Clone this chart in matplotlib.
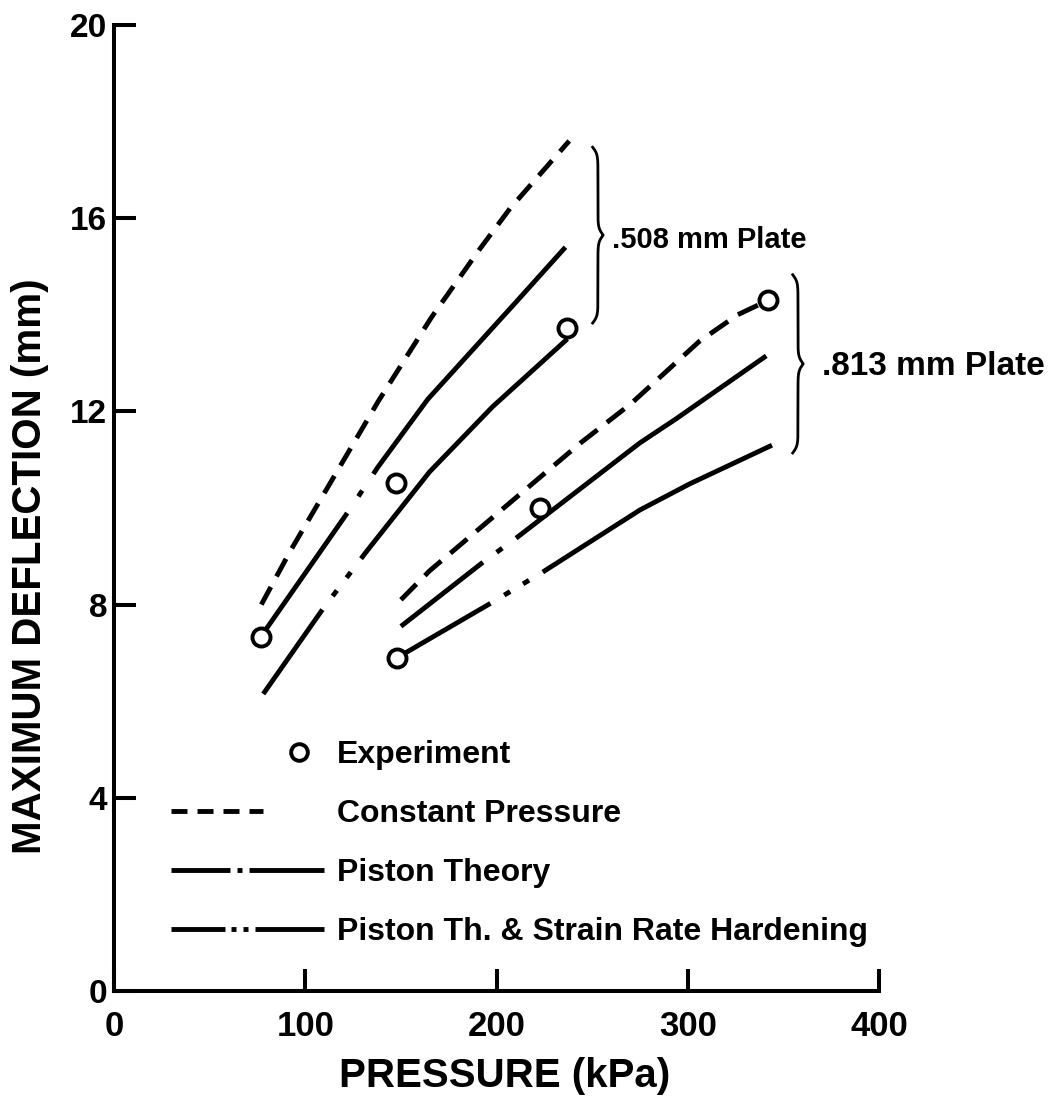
import numpy as np
import matplotlib
matplotlib.use("Agg")
import matplotlib.pyplot as plt
from matplotlib.lines import Line2D
from matplotlib.legend_handler import HandlerLine2D

plt.rcParams['font.family'] = ['Liberation Sans', 'DejaVu Sans']
plt.rcParams['font.weight'] = 'bold'
plt.rcParams['lines.scale_dashes'] = False

# --- data (pressure kPa, max deflection mm) ---
# .508 mm plate
cp508_x = [77, 92, 138, 166, 191, 207, 238]
cp508_y = [8.0, 9.1, 12.2, 13.95, 15.35, 16.2, 17.6]
pt508_x = [77, 122, 138, 164, 211, 236]
pt508_y = [7.35, 9.9, 10.85, 12.25, 14.3, 15.4]
sr508_x = [78, 109, 132, 165, 198, 237]
sr508_y = [6.15, 7.9, 9.1, 10.75, 12.1, 13.5]
exp508_x = [77, 147.5, 237]
exp508_y = [7.33, 10.52, 13.72]

# .813 mm plate
cp813_x = [150, 165, 244, 270, 306, 326, 342]
cp813_y = [8.1, 8.7, 11.35, 12.15, 13.45, 14.0, 14.3]
pt813_x = [150, 192, 211, 275, 294, 341]
pt813_y = [7.55, 8.85, 9.4, 11.35, 11.85, 13.15]
sr813_x = [148, 197, 224, 275, 301, 344]
sr813_y = [6.9, 8.03, 8.67, 9.96, 10.5, 11.3]
exp813_x = [148, 222.7, 342]
exp813_y = [6.89, 10.0, 14.3]

x_ticks = [0, 100, 200, 300, 400]
y_ticks = [0, 4, 8, 12, 16, 20]
legend_labels = ['Experiment', 'Constant Pressure', 'Piston Theory',
                 'Piston Th. & Strain Rate Hardening']


def px(seq):
    # dash lengths given in pixels -> points (dpi 100)
    return [v * 72 / 100 for v in seq]


LW = 3.5
MS = 13
MEW = 2.8

fig = plt.figure(figsize=(10.59, 11.07), dpi=100)
ax = fig.add_axes([0.1077, 0.1048, 0.7224, 0.8726])

ax.plot(cp508_x, cp508_y, color='k', lw=LW, dashes=px([20, 12]))
ax.plot(pt508_x, pt508_y, color='k', lw=LW, dashes=px([150, 20, 7, 20, 400, 10]))
ax.plot(sr508_x, sr508_y, color='k', lw=LW, dashes=px([103, 17, 7, 16, 7, 17, 400, 10]))
ax.plot(cp813_x, cp813_y, color='k', lw=LW, dashes=px([22, 12]))
ax.plot(pt813_x, pt813_y, color='k', lw=LW, dashes=px([104, 17, 7, 17, 400, 10]))
ax.plot(sr813_x, sr813_y, color='k', lw=LW, dashes=px([108, 16, 7, 15, 7, 16, 400, 10]))

for ex, ey in [(exp508_x, exp508_y), (exp813_x, exp813_y)]:
    ax.plot(ex, ey, ls='none', marker='o', ms=MS, mfc='white', mec='k', mew=MEW, zorder=5)


def brace(x, ylo, yhi, w, beta=25):
    t = np.linspace(0, 1, 200)
    half = 1 / (1 + np.exp(-beta * (t - t[0]))) + 1 / (1 + np.exp(-beta * (t - t[-1])))
    xs = x + w * (np.concatenate([half, half[::-1][1:]]) - 1.0)
    ys = np.linspace(yhi, ylo, len(xs))
    ax.plot(xs, ys, color='k', lw=2.0, clip_on=False)


brace(253, 13.83, 17.47, 5.5)
brace(357.6, 11.14, 14.83, 5.5)
ax.text(260.4, 15.55, '.508 mm Plate', fontsize=21, fontweight='bold', ha='left', va='center')
ax.text(370.2, 12.94, '.813 mm Plate', fontsize=24, fontweight='bold', ha='left', va='center',
        clip_on=False)

# legend
exp_h = Line2D([], [], ls='none', marker='o', ms=MS - 1, mfc='white', mec='k', mew=MEW)
cp_h = Line2D([], [], color='k', lw=LW, dashes=px([16, 10, 16, 10, 16, 10, 14, 70]))
pt_h = Line2D([], [], color='k', lw=LW, dashes=px([59, 7, 5, 7, 77, 50]))
sr_h = Line2D([], [], color='k', lw=LW, dashes=px([54, 6, 5, 7, 5, 7, 71, 50]))


def last_marker_only(legend_handle, orig_handle):
    legend_handle.update_from(orig_handle)
    legend_handle.set_markevery([1])


leg = ax.legend([exp_h, cp_h, pt_h, sr_h], legend_labels,
                handler_map={exp_h: HandlerLine2D(numpoints=2, marker_pad=0.8,
                                                  update_func=last_marker_only)},
                loc='upper left', bbox_to_anchor=(0.0745, 0.26), borderaxespad=0,
                borderpad=0, frameon=False, fontsize=23, handlelength=4.8,
                handletextpad=0.4, labelspacing=0.91)
for t in leg.get_texts():
    t.set_fontweight('bold')

ax.set_xlim(0, 400)
ax.set_ylim(0, 20)
ax.set_xticks(x_ticks)
ax.set_yticks(y_ticks)
for s in ['top', 'right']:
    ax.spines[s].set_visible(False)
for s in ['left', 'bottom']:
    ax.spines[s].set_linewidth(2.9)
ax.tick_params(axis='both', direction='in', length=16, width=2.9)
ax.tick_params(axis='x', labelsize=25, pad=14)
ax.tick_params(axis='y', labelsize=24, pad=5)

ax.set_xlabel('PRESSURE (kPa)', fontsize=29, fontweight='bold')
ax.xaxis.set_label_coords(0.51, -0.068)
ax.set_ylabel('MAXIMUM DEFLECTION (mm)', fontsize=29, fontweight='bold')
ax.yaxis.set_label_coords(-0.085, 0.44)

fig.savefig('out.png', dpi=100)
